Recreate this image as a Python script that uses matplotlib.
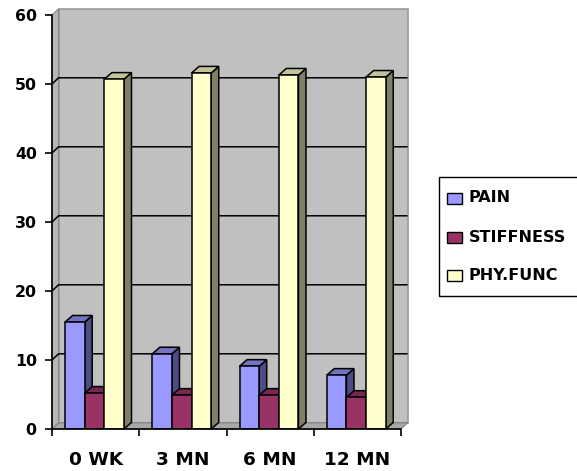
import matplotlib
matplotlib.use("Agg")
import matplotlib.pyplot as plt
from matplotlib.patches import Polygon, Rectangle

# Chart data
categories = ["0 WK", "3 MN", "6 MN", "12 MN"]
series_names = ["PAIN", "STIFFNESS", "PHY.FUNC"]
pain = [15.5, 10.9, 9.1, 7.8]
stiffness = [5.2, 4.9, 4.9, 4.6]
phy_func = [50.7, 51.6, 51.3, 51.0]
y_ticks = [0, 10, 20, 30, 40, 50, 60]

W, H = 577, 471
fig = plt.figure(figsize=(W / 100, H / 100), dpi=100)
fig.patch.set_facecolor("white")
ax = fig.add_axes([52 / W, 1 - 429 / H, (401 - 52) / W, (429 - 15) / H])
ax.set_xlim(0, len(categories))
ax.set_ylim(0, 60)
ax.patch.set_visible(False)

n = len(categories)
wx, wy = 0.075, 0.9    # depth of the walls (x in categories, y in values)
bx, by = 0.086, 0.95   # depth of each 3-D column

# walls and floor
ax.add_patch(Rectangle((wx, wy), n, 60, fc="#c0c0c0", ec="#9a9a9a", lw=1.2,
                       clip_on=False, zorder=0.9))
ax.add_patch(Polygon([(0, 0), (wx, wy), (wx, 60 + wy), (0, 60)], closed=True,
                     fc="#b6b6b6", ec="#8a8a8a", lw=0.8, clip_on=False, zorder=1.0))
ax.add_patch(Polygon([(0, 0), (n, 0), (n + wx, wy), (wx, wy)], closed=True,
                     fc="#a8a8a8", ec="#808080", lw=0.8, clip_on=False, zorder=1.1))
for v in y_ticks[1:-1]:
    ax.plot([0, wx, n + wx], [v, v + wy, v + wy], color="black", lw=1.1,
            zorder=1.5, clip_on=False, solid_capstyle="butt")

# 3-D columns: front face from ax.bar, then side and top faces
series = [pain, stiffness, phy_func]
palette = [("#9999ff", "#7373c0", "#4d4d85"),
           ("#993366", "#76284f", "#4d1a33"),
           ("#ffffcc", "#c4c49c", "#808066")]
offsets = [0.15, 0.375, 0.6]
bw = 0.225
for s, (vals, (front, top, side)) in enumerate(zip(series, palette)):
    xs = [i + offsets[s] for i in range(n)]
    bars = ax.bar(xs, vals, width=bw, align="edge", color=front,
                  edgecolor="black", linewidth=1.1)
    for i, (bar, x0, v) in enumerate(zip(bars, xs, vals)):
        z = 2 + i * 3 + s
        bar.set_zorder(z + 0.2)
        ax.add_patch(Polygon([(x0 + bw, 0), (x0 + bw + bx, by), (x0 + bw + bx, v + by), (x0 + bw, v)],
                             closed=True, fc=side, ec="black", lw=1.1, zorder=z))
        ax.add_patch(Polygon([(x0, v), (x0 + bx, v + by), (x0 + bw + bx, v + by), (x0 + bw, v)],
                             closed=True, fc=top, ec="black", lw=1.1, zorder=z + 0.1))

# axes styling
for side_name in ("top", "right"):
    ax.spines[side_name].set_visible(False)
for side_name in ("left", "bottom"):
    ax.spines[side_name].set_linewidth(1.2)
    ax.spines[side_name].set_color("black")
    ax.spines[side_name].set_zorder(30)

ax.set_yticks(y_ticks)
ax.set_yticklabels([str(t) for t in y_ticks], fontsize=11.3, fontweight="bold")
ax.tick_params(axis="y", direction="out", length=5, width=1.2, pad=6)

ax.set_xticks(range(n + 1))
ax.set_xticklabels([""] * (n + 1))
ax.tick_params(axis="x", which="major", direction="out", length=5, width=1.2)
ax.set_xticks([i + 0.5 for i in range(n)], minor=True)
ax.set_xticklabels(categories, minor=True, fontsize=13.3, fontweight="bold")
ax.tick_params(axis="x", which="minor", length=0, pad=16)

# legend box
def fx(x):
    return x / W

def fy(y):
    return 1 - y / H

fig.patches.append(Rectangle((fx(439), fy(296)), fx(150), (296 - 177) / H,
                             transform=fig.transFigure, fc="white", ec="black",
                             lw=1.0, figure=fig))
row_y = [198, 237, 275]
for name, (front, _, _), yy in zip(series_names, palette, row_y):
    fig.patches.append(Rectangle((fx(447), fy(yy + 5.5)), 15 / W, 11 / H,
                                 transform=fig.transFigure, fc=front, ec="black",
                                 lw=1.0, figure=fig))
    fig.text(fx(469), fy(yy), name, fontsize=11.5, fontweight="bold",
             va="center", ha="left")

fig.savefig("out.png", dpi=100)
